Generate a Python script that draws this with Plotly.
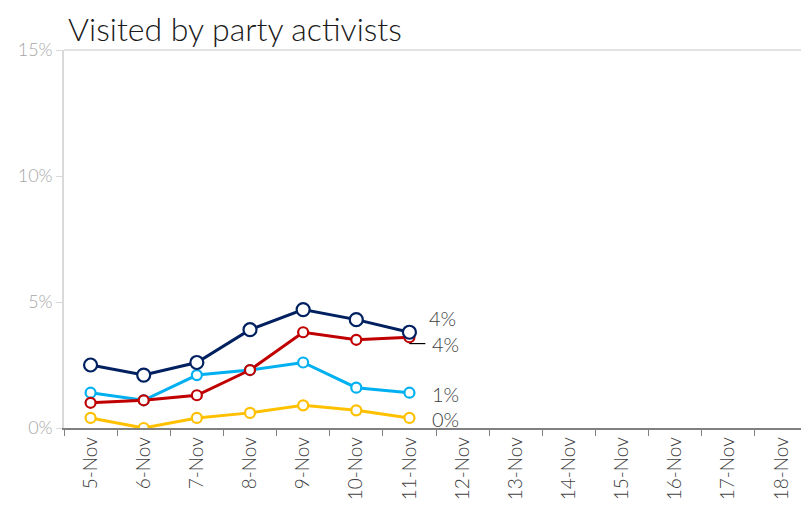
import plotly.graph_objects as go

dates = ["5-Nov", "6-Nov", "7-Nov", "8-Nov", "9-Nov", "10-Nov", "11-Nov",
         "12-Nov", "13-Nov", "14-Nov", "15-Nov", "16-Nov", "17-Nov", "18-Nov"]
navy = [2.5, 2.1, 2.6, 3.9, 4.7, 4.3, 3.8]
red = [1.0, 1.1, 1.3, 2.3, 3.8, 3.5, 3.6]
light_blue = [1.4, 1.1, 2.1, 2.3, 2.6, 1.6, 1.4]
yellow = [0.4, 0.0, 0.4, 0.6, 0.9, 0.7, 0.4]

end_labels = ["4%", "4%", "1%", "0%"]
label_y = [4.35, 3.35, 1.35, 0.35]

fig = go.Figure()

series = [
    (light_blue, "#00b0f0", 10),
    (yellow, "#ffc000", 10),
    (red, "#c00000", 10),
    (navy, "#002060", 13),
]
for vals, color, size in series:
    fig.add_trace(go.Scatter(
        x=dates[:len(vals)], y=vals, mode="lines+markers",
        line=dict(color=color, width=3),
        marker=dict(size=size, color="white", line=dict(color=color, width=2.2)),
        showlegend=False, hoverinfo="skip",
    ))

for text, y, xs in zip(end_labels, label_y, [33, 36, 36, 36]):
    fig.add_annotation(x=dates[6], y=y, text=text, showarrow=False,
                       xshift=xs, font=dict(size=20, color="#404040", weight=300))

# small leader line for the red label
fig.add_shape(type="line", xref="x", yref="y", x0=6.0, x1=6.3, y0=3.35, y1=3.35,
              line=dict(color="black", width=1.2))
# top border line
fig.add_shape(type="line", xref="paper", yref="paper", x0=0, x1=1, y0=1, y1=1,
              line=dict(color="#d9d9d9", width=1.5))

fig.update_layout(
    width=801, height=508,
    margin=dict(l=56, r=1, t=42, b=88),
    plot_bgcolor="white", paper_bgcolor="white",
    font=dict(family="Lato, sans-serif", weight=300),
    title=dict(text="Visited by party activists", x=0.075, xanchor="left",
               y=0.958, yanchor="middle",
               font=dict(size=32, color="#1a1a1a", family="Lato, sans-serif", weight=300)),
    xaxis=dict(
        type="category", categoryorder="array", categoryarray=dates,
        range=[-0.5, 13.5], showgrid=False, showline=True, automargin=False,
        linecolor="#808080", linewidth=1.5, ticks="outside", tickson="boundaries",
        ticklen=6, tickcolor="#808080", tickangle=-90,
        tickfont=dict(size=19, color="#404040", weight=300),
    ),
    yaxis=dict(
        range=[0, 15], dtick=5, ticksuffix="%", showgrid=False, zeroline=False,
        showline=True, linecolor="#d9d9d9", linewidth=1.5, ticks="outside",
        ticklen=6, tickcolor="#d9d9d9", automargin=False,
        tickfont=dict(size=18, color="#a6a6a6", weight=300),
    ),
)

fig.write_html("out.html")
